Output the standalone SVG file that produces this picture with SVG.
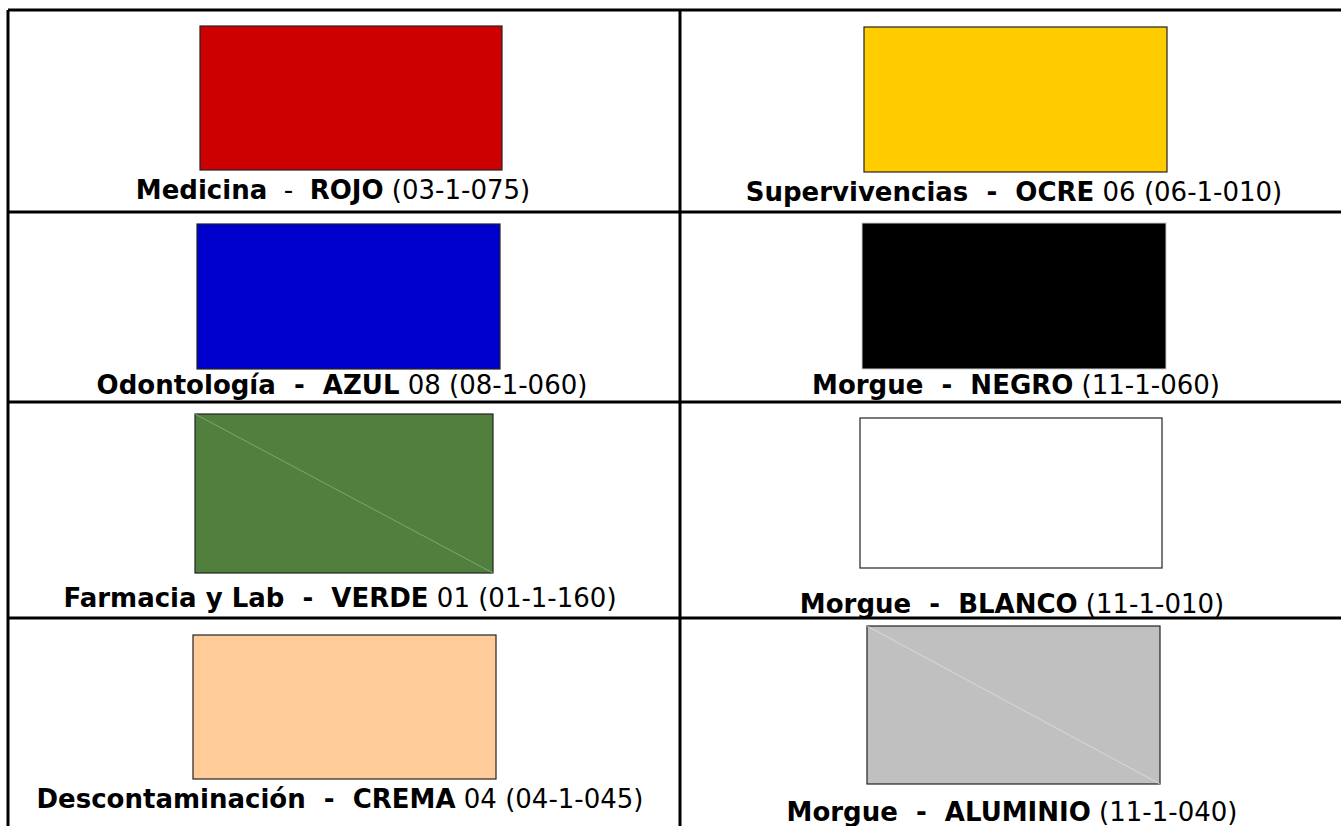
<svg xmlns="http://www.w3.org/2000/svg" width="1341" height="826" viewBox="0 0 1341 826">
<style>
.grid{stroke:#000;stroke-width:3;fill:none}
.sw{stroke:#222;stroke-width:1.2}
.lbl{font-family:"DejaVu Sans",Verdana,sans-serif;font-size:26px;fill:#000;text-anchor:middle;white-space:pre}
.b{font-weight:bold}
.diag{stroke-width:0.8}
</style>
<rect width="1341" height="826" fill="#fff"/>
<g id="table">
<path class="grid" d="M8 10H1341M8 10V826M680 10V826M8 212H1341M8 402H1341M8 618H1341"/>
</g>
<g id="medicina">
<rect class="sw" x="200" y="26" width="302" height="144" fill="#CC0000"/>
<text class="lbl" x="333" y="199" xml:space="preserve"><tspan class="b">Medicina</tspan>  -  <tspan class="b">ROJO</tspan> (03-1-075)</text>
</g>
<g id="supervivencias">
<rect class="sw" x="864" y="27" width="303" height="145" fill="#FFCC00"/>
<text class="lbl" x="1014" y="201" xml:space="preserve"><tspan class="b">Supervivencias  -  OCRE</tspan><tspan> 06 (06-1-010)</tspan></text>
</g>
<g id="odontologia">
<rect class="sw" x="197" y="224" width="303" height="145" fill="#0000CC"/>
<text class="lbl" x="342" y="394" xml:space="preserve"><tspan class="b">Odontología  -  AZUL</tspan> 08 (08-1-060)</text>
</g>
<g id="morgue-negro">
<rect x="862" y="223" width="304" height="146" fill="#000" stroke="#ccc" stroke-width="1"/>
<text class="lbl" x="1016" y="394" xml:space="preserve"><tspan class="b">Morgue  -  NEGRO</tspan> (11-1-060)</text>
</g>
<g id="farmacia">
<rect class="sw" x="195" y="414" width="298" height="159" fill="#507F3E"/>
<line class="diag" x1="195" y1="414" x2="493" y2="573" stroke="#8DB07A"/>
<text class="lbl" x="340" y="607" xml:space="preserve"><tspan class="b">Farmacia y Lab  -  VERDE</tspan> 01 (01-1-160)</text>
</g>
<g id="morgue-blanco">
<rect class="sw" x="860" y="418" width="302" height="150" fill="#fff"/>
<text class="lbl" x="1012" y="613" xml:space="preserve"><tspan class="b">Morgue  -  BLANCO</tspan> (11-1-010)</text>
</g>
<g id="descontaminacion">
<rect class="sw" x="193" y="635" width="303" height="144" fill="#FFCC99"/>
<text class="lbl" x="340" y="808" xml:space="preserve"><tspan class="b">Descontaminación  -  CREMA</tspan> 04 (04-1-045)</text>
</g>
<g id="morgue-aluminio">
<rect class="sw" x="867" y="626" width="293" height="158" fill="#C0C0C0"/>
<line class="diag" x1="867" y1="626" x2="1160" y2="784" stroke="#E0E0E0"/>
<text class="lbl" x="1012" y="821" xml:space="preserve"><tspan class="b">Morgue  -  ALUMINIO</tspan> (11-1-040)</text>
</g>
</svg>
